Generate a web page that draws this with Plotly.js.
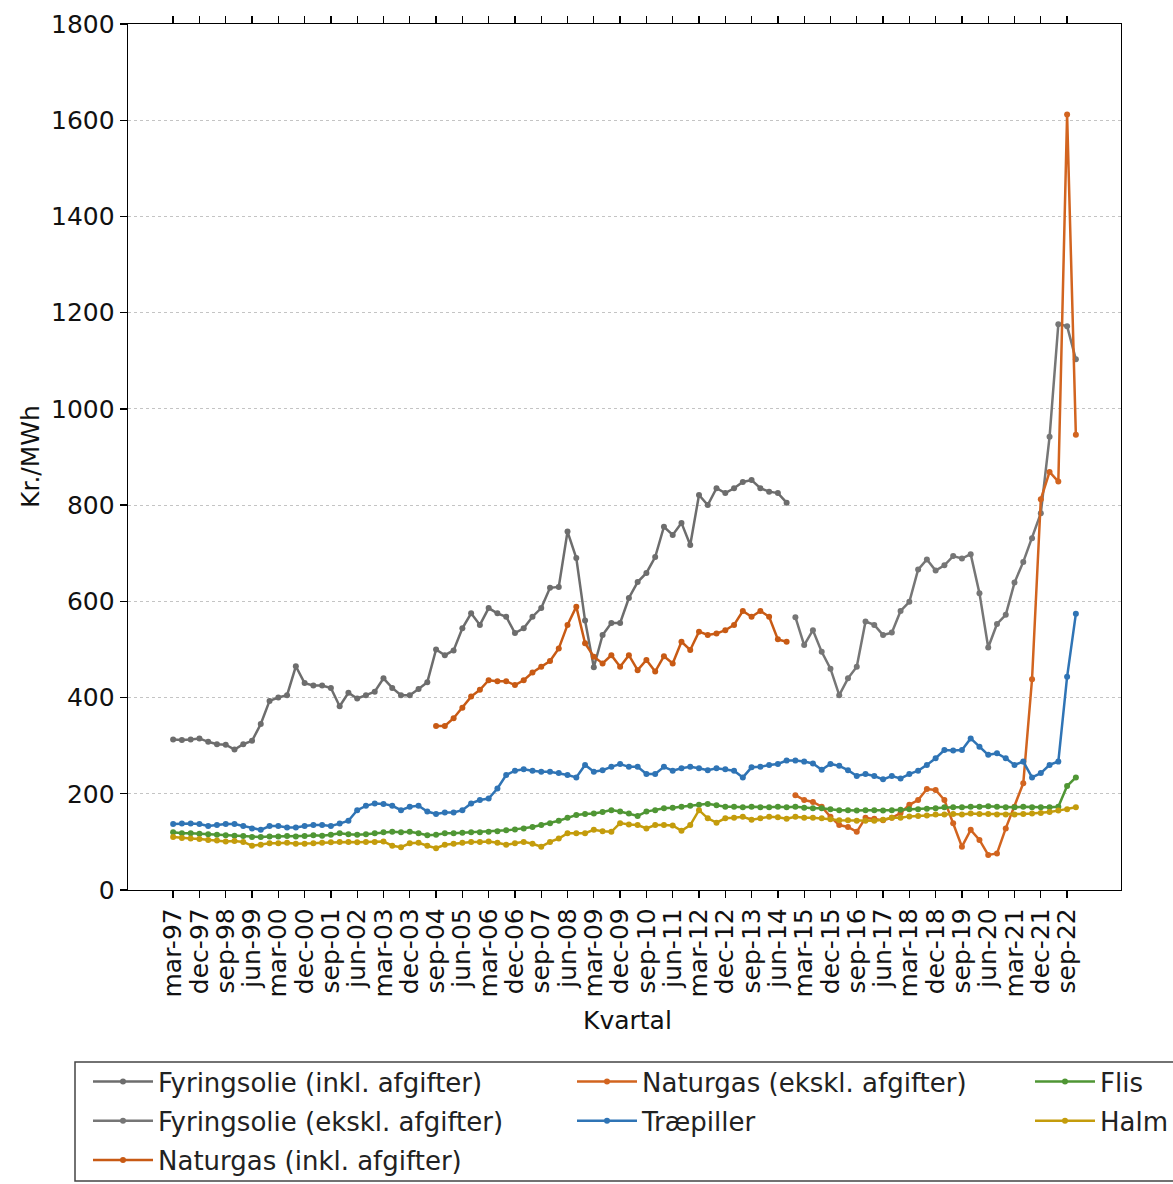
<!DOCTYPE html>
<html>
<head>
<meta charset="utf-8">
<script src="https://cdn.plot.ly/plotly-3.0.1.min.js"></script>
<style>
html,body{margin:0;padding:0;background:#fff;}
#chart{width:1173px;height:1184px;}
</style>
</head>
<body>
<div id="chart"></div>
<script>
// Quarters (categories)
const quarters = [
"mar-97","jun-97","sep-97","dec-97","mar-98","jun-98","sep-98","dec-98",
"mar-99","jun-99","sep-99","dec-99","mar-00","jun-00","sep-00","dec-00",
"mar-01","jun-01","sep-01","dec-01","mar-02","jun-02","sep-02","dec-02",
"mar-03","jun-03","sep-03","dec-03","mar-04","jun-04","sep-04","dec-04",
"mar-05","jun-05","sep-05","dec-05","mar-06","jun-06","sep-06","dec-06",
"mar-07","jun-07","sep-07","dec-07","mar-08","jun-08","sep-08","dec-08",
"mar-09","jun-09","sep-09","dec-09","mar-10","jun-10","sep-10","dec-10",
"mar-11","jun-11","sep-11","dec-11","mar-12","jun-12","sep-12","dec-12",
"mar-13","jun-13","sep-13","dec-13","mar-14","jun-14","sep-14","dec-14",
"mar-15","jun-15","sep-15","dec-15","mar-16","jun-16","sep-16","dec-16",
"mar-17","jun-17","sep-17","dec-17","mar-18","jun-18","sep-18","dec-18",
"mar-19","jun-19","sep-19","dec-19","mar-20","jun-20","sep-20","dec-20",
"mar-21","jun-21","sep-21","dec-21","mar-22","jun-22","sep-22","dec-22"
];

const tickLabels = ["mar-97","dec-97","sep-98","jun-99","mar-00","dec-00","sep-01","jun-02",
"mar-03","dec-03","sep-04","jun-05","mar-06","dec-06","sep-07","jun-08","mar-09","dec-09",
"sep-10","jun-11","mar-12","dec-12","sep-13","jun-14","mar-15","dec-15","sep-16","jun-17",
"mar-18","dec-18","sep-19","jun-20","mar-21","dec-21","sep-22"];

const xTitle = "Kvartal";
const yTitle = "Kr./MWh";

// Fyringsolie (inkl. afgifter): mar-97 .. sep-14
const fyrInkl = [313,312,313,315,308,303,302,292,303,310,
345,393,400,405,465,430,425,425,420,382,
410,398,405,412,440,420,405,405,418,432,
500,488,498,544,575,551,586,575,568,534,
544,568,586,628,630,745,690,560,463,530,
555,555,607,640,659,692,755,738,763,717,
821,800,835,825,835,848,852,835,828,825,805];

// Fyringsolie (ekskl. afgifter): dec-14 .. dec-22
const fyrEkskl = [567,509,540,495,460,405,440,464,558,551,
530,535,580,599,666,687,664,675,694,689,
698,617,504,553,572,639,682,731,783,942,
1176,1172,1103];

// Naturgas (inkl. afgifter): sep-04 .. sep-14
const natInkl = [341,341,357,379,402,416,436,434,434,426,
436,452,464,476,502,551,589,513,485,471,
488,464,488,457,478,454,486,471,516,499,
537,530,533,540,551,580,568,580,568,521,516];

// Naturgas (ekskl. afgifter): dec-14 .. dec-22
const natEkskl = [197,187,183,173,152,135,131,121,150,148,
145,150,160,177,187,210,208,187,139,90,
125,104,73,76,128,173,222,438,812,869,
849,1612,946];

// Træpiller: mar-97 .. dec-22
const traepiller = [137,138,138,137,133,135,137,137,133,128,
125,133,133,130,130,133,135,135,133,138,
144,166,175,180,179,175,166,173,175,163,
158,161,161,166,180,187,190,211,239,248,
251,248,246,246,243,239,234,260,246,249,
256,262,256,256,241,241,256,248,253,256,
253,249,253,251,248,234,255,256,260,262,
269,269,267,263,250,262,258,249,237,241,
237,230,237,232,241,248,260,274,291,290,
291,315,298,281,284,274,260,267,234,243,
260,267,443,574];

// Flis: mar-97 .. dec-22
const flis = [120,118,118,117,116,115,114,113,112,110,
110,111,111,112,111,112,114,113,115,118,
116,115,116,118,120,121,120,121,118,114,
115,118,118,119,120,120,121,122,124,126,
128,131,135,139,144,150,156,158,159,162,
166,163,159,154,163,166,170,171,173,175,
177,179,176,173,173,172,173,172,172,173,
172,173,171,170,170,168,166,166,165,166,
166,165,166,167,168,168,169,170,172,172,
172,173,173,174,173,172,172,173,172,172,
172,173,216,234];

// Halm: mar-97 .. dec-22
const halm = [110,108,107,106,104,103,101,102,100,92,
94,97,97,98,96,96,97,98,99,100,
100,99,100,100,101,92,89,97,98,92,
87,94,96,98,100,100,101,98,94,97,
100,96,90,100,107,118,118,118,125,122,
121,139,136,135,128,135,135,134,123,135,
166,149,140,149,150,152,146,149,152,151,
148,152,150,150,149,147,145,145,144,144,
144,146,150,150,153,154,155,157,157,158,
157,159,158,158,157,157,157,158,159,160,
162,165,168,172];

const FONT = "DejaVu Sans, Verdana, sans-serif";

function mk(name, x, y, color, legend, group) {
  return {
    type: "scatter", mode: "lines+markers", name: name,
    x: x, y: y,
    line: {color: color, width: 2.5},
    marker: {color: color, size: 6},
    legend: legend, legendgroup: group,
    hoverinfo: "skip"
  };
}

const startFyrE = quarters.indexOf("dec-14");
const startNatI = quarters.indexOf("sep-04");

const traces = [
  mk("Fyringsolie (inkl. afgifter)", quarters.slice(0, fyrInkl.length), fyrInkl, "#6d6d6d", "legend", "g1"),
  mk("Fyringsolie (ekskl. afgifter)", quarters.slice(startFyrE, startFyrE + fyrEkskl.length), fyrEkskl, "#767676", "legend", "g2"),
  mk("Naturgas (inkl. afgifter)", quarters.slice(startNatI, startNatI + natInkl.length), natInkl, "#c85a14", "legend", "g3"),
  mk("Naturgas (ekskl. afgifter)", quarters.slice(startFyrE, startFyrE + natEkskl.length), natEkskl, "#d2641f", "legend2", "g4"),
  mk("Træpiller", quarters.slice(0, traepiller.length), traepiller, "#2f74b5", "legend2", "g5"),
  mk("Flis", quarters.slice(0, flis.length), flis, "#4f9634", "legend3", "g6"),
  mk("Halm", quarters.slice(0, halm.length), halm, "#c49c0c", "legend3", "g7")
];

function leg(xpx) {
  return {
    x: xpx / 1173, xref: "container", xanchor: "left",
    y: 1 - 1058 / 1184, yref: "container", yanchor: "top",
    bgcolor: "rgba(0,0,0,0)", borderwidth: 0,
    font: {family: FONT, size: 26, color: "#222"},
    traceorder: "grouped", tracegroupgap: 2.5,
    itemwidth: 60
  };
}

const layout = {
  width: 1173, height: 1184,
  margin: {l: 128, r: 52, t: 24, b: 294, autoexpand: false},
  paper_bgcolor: "#ffffff", plot_bgcolor: "#ffffff",
  font: {family: FONT, color: "#111"},
  showlegend: true,
  xaxis: {
    type: "category", categoryorder: "array", categoryarray: quarters,
    range: [-5.15, 108.15],
    tickmode: "array", tickvals: tickLabels, ticktext: tickLabels,
    tickangle: -90, ticks: "outside", ticklen: 7, tickwidth: 1.3, tickcolor: "#000",
    showline: true, linecolor: "#000", linewidth: 1.3, mirror: "ticks",
    showgrid: false, zeroline: false,
    tickfont: {family: FONT, size: 25, color: "#111"},
    automargin: false
  },
  yaxis: {
    range: [0, 1800], tickmode: "linear", tick0: 0, dtick: 200,
    ticks: "outside", ticklen: 7, tickwidth: 1.3, tickcolor: "#000",
    showline: true, linecolor: "#000", linewidth: 1.3, mirror: true,
    showgrid: true, gridcolor: "#c4c4c4", griddash: "dot", gridwidth: 1,
    zeroline: false,
    tickfont: {family: FONT, size: 25, color: "#111"},
    automargin: false
  },
  annotations: [
    {text: xTitle, xref: "paper", yref: "paper", x: 0.503, y: (890 - 1021) / 866,
     xanchor: "center", yanchor: "middle", showarrow: false,
     font: {family: FONT, size: 25, color: "#111"}},
    {text: yTitle, xref: "paper", yref: "paper", x: (30 - 128) / 993, y: 0.5,
     xanchor: "center", yanchor: "middle", showarrow: false, textangle: -90,
     font: {family: FONT, size: 25, color: "#111"}}
  ],
  legend: leg(88),
  legend2: leg(572),
  legend3: leg(1030),
  shapes: [{
    type: "rect", xref: "paper", yref: "paper",
    x0: (75 - 128) / 993, x1: (1185 - 128) / 993,
    y0: (890 - 1181) / 866, y1: (890 - 1062) / 866,
    line: {color: "#444", width: 1.5}, fillcolor: "rgba(0,0,0,0)", layer: "below"
  }]
};

Plotly.newPlot("chart", traces, layout, {staticPlot: true, displayModeBar: false});
</script>
</body>
</html>
